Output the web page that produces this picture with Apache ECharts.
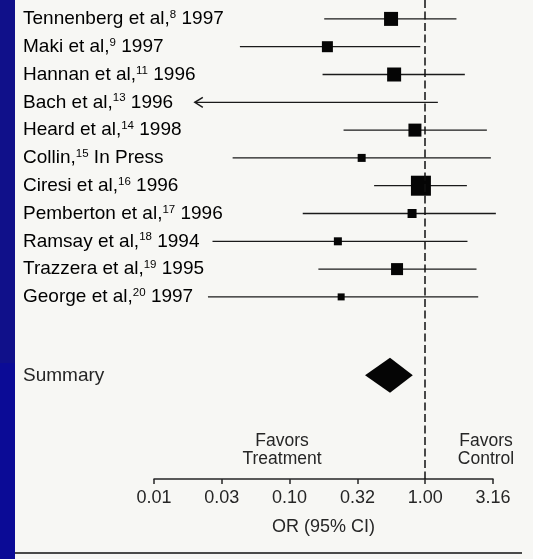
<!DOCTYPE html>
<html>
<head>
<meta charset="utf-8">
<style>
  html, body { margin: 0; padding: 0; background: #f7f7f4; }
  #chart { width: 533px; height: 559px; }
</style>
<script src="https://cdn.jsdelivr.net/npm/echarts@6/dist/echarts.min.js"></script>
</head>
<body>
<div id="chart"></div>
<script>
// study rows, top to bottom
var studies = ['Tennenberg et al,', 'Maki et al,', 'Hannan et al,', 'Bach et al,', 'Heard et al,', 'Collin,',
  'Ciresi et al,', 'Pemberton et al,', 'Ramsay et al,', 'Trazzera et al,', 'George et al,'];
var refs = ['8', '9', '11', '13', '14', '15', '16', '17', '18', '19', '20'];
var years = ['1997', '1997', '1996', '1996', '1998', 'In Press', '1996', '1996', '1994', '1995', '1997'];
var oddsRatio = [0.56, 0.19, 0.59, null, 0.84, 0.34, 0.93, 0.80, 0.227, 0.62, 0.24];
var ciLow = [0.18, 0.043, 0.175, 0.02, 0.25, 0.038, 0.42, 0.125, 0.027, 0.163, 0.025];
var ciHigh = [1.70, 0.92, 1.96, 1.24, 2.85, 3.05, 2.03, 3.32, 2.05, 2.39, 2.46];
var truncated = [false, false, false, true, false, false, false, false, false, false, false];
var weights = [14, 11, 14, 0, 13, 8, 20, 9, 8, 12, 7];

var summaryLabel = 'Summary';
var summaryOR = 0.55;
var summaryLow = 0.36;
var summaryHigh = 0.81;

var tickLabels = ['0.01', '0.03', '0.10', '0.32', '1.00', '3.16'];

var ink = '#262626';
var font = '"Liberation Sans", Arial, Helvetica, sans-serif';
var summaryRow = 12.82;
var labelX = 23;

function lg(v) { return Math.log(v) / Math.LN10; }

var rowData = studies.map(function(s, i) {
  return [lg(ciLow[i]), lg(ciHigh[i]), i, truncated[i] ? 1 : 0];
});
var pointData = [];
oddsRatio.forEach(function(v, i) {
  if (v != null) pointData.push([lg(v), i, weights[i]]);
});

var rich = {
  n: { fontSize: 19, lineHeight: 20, fontFamily: font, color: ink },
  s: { fontSize: 11.5, lineHeight: 11.5, fontFamily: font, color: ink, verticalAlign: 'top' }
};

function labelText(i) {
  return '{n|' + studies[i] + '}{s|' + refs[i] + '}{n| ' + years[i] + '}';
}

var chart = echarts.init(document.getElementById('chart'));
chart.setOption({
  animation: false,
  backgroundColor: '#f7f7f4',
  grid: { left: 154, right: 40, top: 0, bottom: 80 },
  xAxis: {
    type: 'value',
    min: -2,
    max: 0.5,
    interval: 0.5,
    splitLine: { show: false },
    axisLine: { onZero: false, lineStyle: { color: ink, width: 1.5 } },
    axisTick: { length: 5, lineStyle: { color: ink, width: 1.5 } },
    axisLabel: {
      color: ink, fontSize: 18, fontFamily: font, margin: 10,
      formatter: function(v) { return tickLabels[Math.round((v + 2) / 0.5)]; }
    },
    name: 'OR (95% CI)',
    nameLocation: 'middle',
    nameGap: 39,
    nameTextStyle: { color: ink, fontSize: 18, fontFamily: font }
  },
  yAxis: { type: 'value', inverse: true, min: -0.68, max: 16.55, show: false },
  series: [
    {
      type: 'custom',
      data: rowData,
      encode: { x: [0, 1], y: 2 },
      renderItem: function(params, api) {
        var i = api.value(2);
        var a = api.coord([api.value(0), i]);
        var b = api.coord([api.value(1), i]);
        var kids = [
          { type: 'line', shape: { x1: a[0], y1: a[1], x2: b[0], y2: b[1] },
            style: { stroke: '#1a1a1a', lineWidth: 1.3 } },
          { type: 'text', x: labelX, y: a[1],
            style: { text: labelText(i), rich: rich, verticalAlign: 'middle', align: 'left' } }
        ];
        if (api.value(3)) {
          kids.push({ type: 'polyline',
            shape: { points: [[a[0] + 8, a[1] - 5], [a[0], a[1]], [a[0] + 8, a[1] + 5]] },
            style: { stroke: '#1a1a1a', lineWidth: 1.5, fill: null } });
        }
        return { type: 'group', children: kids };
      }
    },
    {
      type: 'scatter',
      data: pointData,
      symbol: 'rect',
      symbolSize: function(v) { return v[2]; },
      itemStyle: { color: '#050505', opacity: 1 },
      markLine: {
        silent: true,
        symbol: 'none',
        label: { show: false },
        lineStyle: { color: '#111', width: 1.5, type: [8, 3.5] },
        data: [{ xAxis: 0 }]
      }
    },
    {
      type: 'custom',
      data: [[lg(summaryLow), lg(summaryOR), lg(summaryHigh), summaryRow]],
      encode: { x: [0, 1, 2], y: 3 },
      renderItem: function(params, api) {
        var y = api.value(3);
        var l = api.coord([api.value(0), y]);
        var m = api.coord([api.value(1), y]);
        var r = api.coord([api.value(2), y]);
        return { type: 'group', children: [
          { type: 'polygon',
            shape: { points: [[l[0], l[1]], [m[0], m[1] - 17.5], [r[0], r[1]], [m[0], m[1] + 17.5]] },
            style: { fill: '#050505' } },
          { type: 'text', x: labelX, y: m[1],
            style: { text: summaryLabel, fontSize: 19, fontFamily: font, fill: ink, verticalAlign: 'middle' } }
        ] };
      }
    }
  ],
  graphic: [
    { type: 'rect', left: 0, top: 0, shape: { width: 15, height: 363 }, style: { fill: '#10108a' } },
    { type: 'rect', left: 0, top: 363, shape: { width: 15, height: 196 }, style: { fill: '#0b0b96' } },
    { type: 'text', x: 282, y: 450,
      style: { text: 'Favors\nTreatment', fontSize: 17.5, lineHeight: 18.5, fontFamily: font, fill: ink,
        align: 'center', verticalAlign: 'middle' } },
    { type: 'text', x: 486, y: 450,
      style: { text: 'Favors\nControl', fontSize: 17.5, lineHeight: 18.5, fontFamily: font, fill: ink,
        align: 'center', verticalAlign: 'middle' } },
    { type: 'line', shape: { x1: 15, y1: 553, x2: 522, y2: 553 }, style: { stroke: '#111', lineWidth: 1.5 } }
  ]
});
window.addEventListener('resize', function() { chart.resize(); });
</script>
</body>
</html>
